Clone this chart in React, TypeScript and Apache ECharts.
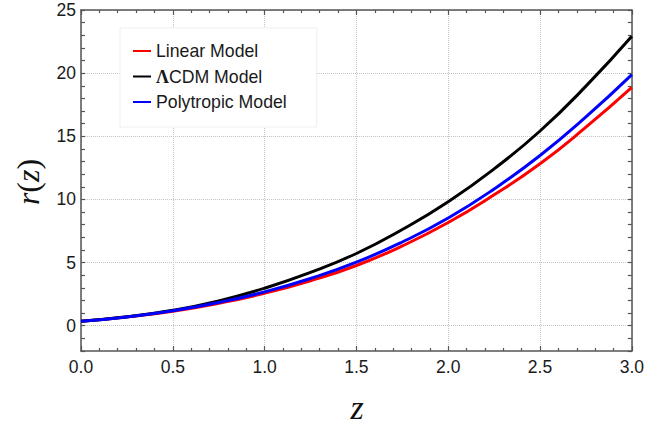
import React, { useEffect, useRef } from 'react';
import * as echarts from 'echarts';

// redshift samples and comoving distance r(z) for the three models
const zValues = [0, 0.25, 0.5, 0.75, 1, 1.25, 1.5, 1.75, 2, 2.25, 2.5, 2.75, 3];
const linearModel = [0.35, 0.69, 1.15, 1.78, 2.57, 3.56, 4.77, 6.32, 8.17, 10.37, 12.82, 15.72, 18.87];
const lcdmModel = [0.35, 0.71, 1.22, 1.97, 2.97, 4.22, 5.72, 7.62, 9.82, 12.42, 15.42, 18.97, 22.92];
const polytropicModel = [0.35, 0.7, 1.18, 1.84, 2.68, 3.74, 5.03, 6.63, 8.53, 10.83, 13.48, 16.53, 19.88];

const seriesNames = ['Linear Model', 'ΛCDM Model', 'Polytropic Model'];
const seriesColors = ['#ff0000', '#000000', '#0000ff'];
const seriesValues = [linearModel, lcdmModel, polytropicModel];

const X_MIN = 0;
const X_MAX = 3;
const Y_MIN = -2;
const Y_MAX = 25;

const AXIS_COLOR = '#555555';
const GRID_COLOR = '#c4c4c4';
const SANS = '"Liberation Sans", Arial, sans-serif';
const SERIF = '"Liberation Serif", "Times New Roman", serif';

export default function App() {
  const ref = useRef<HTMLDivElement>(null);

  useEffect(() => {
    if (!ref.current) return;
    const chart = echarts.init(ref.current, undefined, { renderer: 'svg' });

    const xAxisBase = {
      type: 'value' as const,
      min: X_MIN,
      max: X_MAX,
      interval: 0.5,
      axisLine: { show: true, onZero: false, lineStyle: { color: AXIS_COLOR, width: 1.5 } },
      axisTick: { show: true, inside: true, length: 5, lineStyle: { color: AXIS_COLOR, width: 1.2 } },
      minorTick: { show: true, splitNumber: 5, length: 3, lineStyle: { color: AXIS_COLOR, width: 1.2 } },
    };

    // y ticks every unit; labels and grid lines only on multiples of 5 (ticks start at -2)
    const yAxisBase = {
      type: 'value' as const,
      min: Y_MIN,
      max: Y_MAX,
      interval: 1,
      axisLine: { show: true, onZero: false, lineStyle: { color: AXIS_COLOR, width: 1.5 } },
      axisTick: { show: true, inside: true, length: 4, lineStyle: { color: AXIS_COLOR, width: 1.2 } },
    };

    chart.setOption({
      animation: false,
      backgroundColor: '#ffffff',
      grid: { left: 81, right: 13, top: 10, bottom: 80, containLabel: false },
      legend: {
        orient: 'vertical',
        left: 120,
        top: 28,
        data: seriesNames.map((name) => ({ name })),
        icon: 'rect',
        itemWidth: 18,
        itemHeight: 2,
        itemGap: 5.5,
        padding: [13, 30, 15, 13],
        backgroundColor: '#ffffff',
        borderColor: '#efefef',
        borderWidth: 1,
        borderRadius: 0,
        formatter: (name: string) => (name.startsWith('Λ') ? '{g|Λ}' + name.slice(1) : name),
        textStyle: {
          fontFamily: SANS,
          fontSize: 17.7,
          color: '#1a1a1a',
          lineHeight: 20,
          rich: {
            g: { fontFamily: SERIF, fontWeight: 'bold', fontSize: 18, color: '#1a1a1a' },
          },
        },
      },
      xAxis: [
        {
          ...xAxisBase,
          position: 'bottom',
          axisLabel: {
            show: true,
            margin: 7,
            fontFamily: SANS,
            fontSize: 17.5,
            color: '#1a1a1a',
            formatter: (v: number) => v.toFixed(1),
          },
          splitLine: { show: true, lineStyle: { type: 'dotted', color: GRID_COLOR, width: 1 } },
        },
        {
          ...xAxisBase,
          position: 'top',
          axisLabel: { show: false },
          splitLine: { show: false },
        },
      ],
      yAxis: [
        {
          ...yAxisBase,
          position: 'left',
          axisLabel: {
            show: true,
            margin: 5,
            fontFamily: SANS,
            fontSize: 17.5,
            color: '#1a1a1a',
            formatter: (v: number) => (v % 5 === 0 ? String(v) : ''),
          },
          splitLine: {
            show: true,
            lineStyle: {
              type: 'dotted',
              width: 1,
              color: ['rgba(0,0,0,0)', 'rgba(0,0,0,0)', GRID_COLOR, 'rgba(0,0,0,0)', 'rgba(0,0,0,0)'],
            },
          },
        },
        {
          ...yAxisBase,
          position: 'right',
          axisLabel: { show: false },
          splitLine: { show: false },
        },
      ],
      series: seriesNames.map((name, i) => ({
        name,
        type: 'line',
        xAxisIndex: 0,
        yAxisIndex: 0,
        smooth: 0.5,
        showSymbol: false,
        symbol: 'none',
        color: seriesColors[i],
        lineStyle: { color: seriesColors[i], width: 3 },
        data: zValues.map((z, k) => [z, seriesValues[i][k]]),
      })),
      graphic: [
        {
          type: 'text',
          x: 28,
          y: 182,
          rotation: Math.PI / 2,
          style: {
            text: '{i|r}{p|(}{i|z}{p|)}',
            align: 'center',
            verticalAlign: 'middle',
            fill: '#111',
            rich: {
              i: { fontFamily: SERIF, fontStyle: 'italic', fontSize: 32, fill: '#111' },
              p: { fontFamily: SERIF, fontSize: 32, fill: '#111' },
            },
          },
        },
        {
          type: 'text',
          x: 357,
          y: 407,
          style: {
            text: 'z',
            align: 'center',
            verticalAlign: 'middle',
            fontFamily: SERIF,
            fontStyle: 'italic',
            fontSize: 34,
            fill: '#111',
          },
        },
      ],
    });

    return () => chart.dispose();
  }, []);

  return (
    <div
      ref={ref}
      style={{ position: 'fixed', left: 0, top: 0, width: 647, height: 431, background: '#fff' }}
    />
  );
}
